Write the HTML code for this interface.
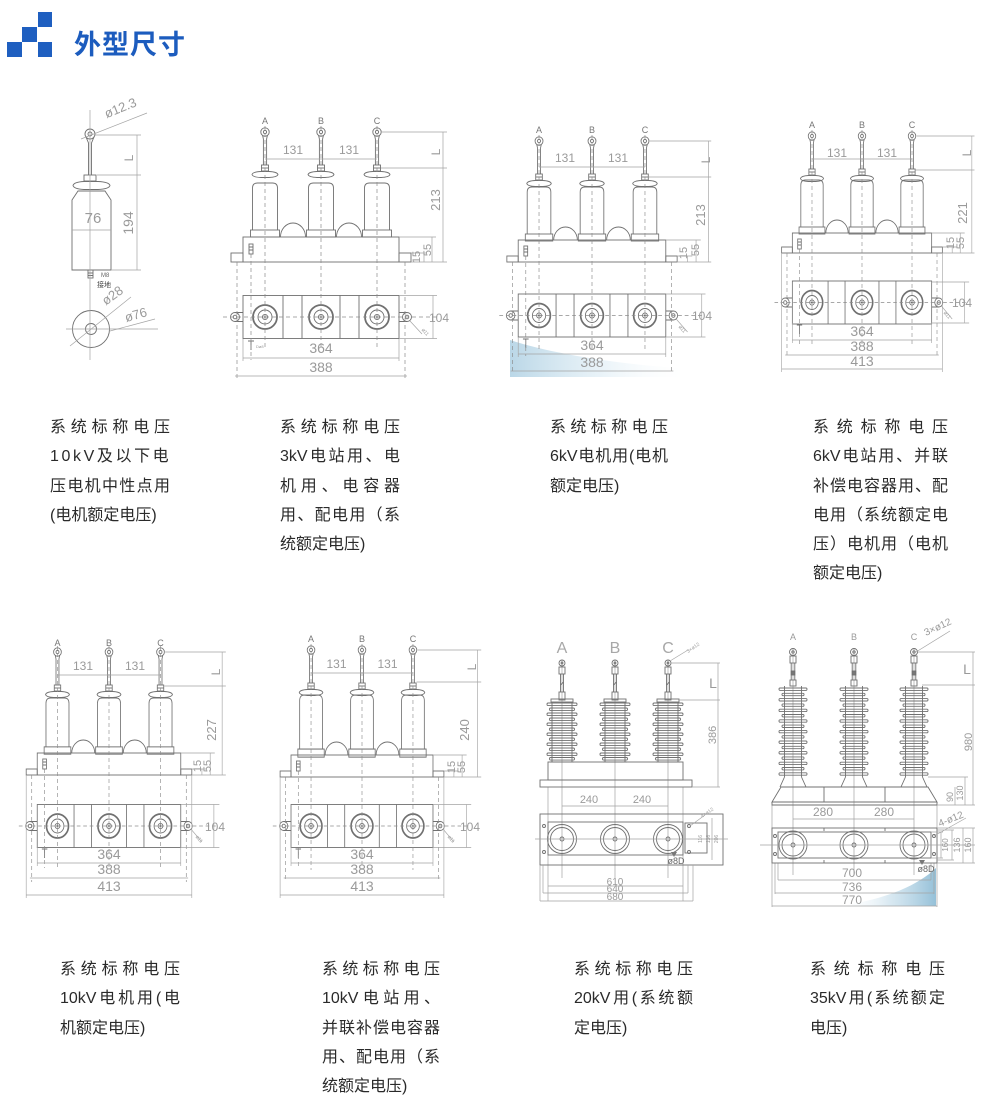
<!DOCTYPE html>
<html><head><meta charset="utf-8">
<style>
html,body{margin:0;padding:0;background:#fff;}
body{width:1000px;height:1118px;position:relative;overflow:hidden;}
.sq{position:absolute;background:#1f5fc0;}
.title{position:absolute;left:74px;top:30px;font-family:"Liberation Sans","Noto Sans CJK SC",sans-serif;font-size:27px;line-height:30px;font-weight:bold;color:#1c5cbe;letter-spacing:1px;white-space:nowrap;}
.tx{position:absolute;font-family:"Liberation Sans","Noto Sans CJK SC",sans-serif;font-size:16px;line-height:29.3px;color:#2a2a2a;}
.tx div{white-space:nowrap;}
.tx .j{text-align:justify;text-align-last:justify;}
svg{position:absolute;left:0;top:0;}
.l{stroke:#707070;stroke-width:.9;fill:none;}
.lb{stroke:#707070;stroke-width:1.8;fill:none;}
.d{stroke:#a4a4a4;stroke-width:.7;fill:none;}
.ds{stroke:#8c8c8c;stroke-width:.7;fill:none;stroke-dasharray:4 3;}
.t{fill:#9a9a9a;font-family:"Liberation Sans","Noto Sans CJK SC",sans-serif;}
</style></head><body>

<div class="sq" style="left:38px;top:12px;width:14px;height:15px"></div>
<div class="sq" style="left:22px;top:27px;width:15px;height:15px"></div>
<div class="sq" style="left:7px;top:42px;width:15px;height:15px"></div>
<div class="sq" style="left:38px;top:42px;width:14px;height:15px"></div>
<div class="title">外型尺寸</div>

<svg width="1000" height="1118" viewBox="0 0 1000 1118" xmlns="http://www.w3.org/2000/svg">
<defs>
<linearGradient id="g1" x1="0" y1="0" x2="1" y2="0"><stop offset="0" stop-color="#a9cde1" stop-opacity=".8"/><stop offset=".5" stop-color="#d2e6f1" stop-opacity=".5"/><stop offset="1" stop-color="#ffffff" stop-opacity="0"/></linearGradient>
<linearGradient id="g2" x1="0" y1="0" x2="1" y2="0"><stop offset="0" stop-color="#ffffff" stop-opacity="0"/><stop offset=".5" stop-color="#c3dcea" stop-opacity=".6"/><stop offset="1" stop-color="#8fbdd6" stop-opacity=".95"/></linearGradient>

<g id="top">
 <circle cx="0" cy="0" r="4.2"/><circle cx="0" cy="0" r="1.6"/>
 <path d="M-2.4,3.4 L-1.6,7 V33 M2.4,3.4 L1.6,7 V33"/>
 <rect x="-3.5" y="33" width="7" height="6"/><path d="M-3.5,36 H3.5"/>
 <path d="M-13,42.5 Q-12,39.8 -4,39.5 H4 Q12,39.8 13,42.5 Q12,45.2 4,45.5 H-4 Q-12,45.2 -13,42.5Z"/>
</g>
<g id="cyl">
 <path d="M-12.5,47 V5 Q-12.5,0 -7.5,0 H7.5 Q12.5,0 12.5,5 V47"/>
 <rect x="-14.5" y="47" width="29" height="7"/>
</g>
<g id="bush"><circle r="12" class="lb"/><circle r="7" class="l"/><circle r="2.6" class="l"/><path class="l" d="M-1.5,0H1.5M0,-1.5V1.5"/></g>
<g id="plan">
 <rect class="l" x="-78" y="-21.5" width="156" height="43"/>
 <path class="l" d="M-38,-21.5V21.5M-19,-21.5V21.5M19,-21.5V21.5M38,-21.5V21.5"/>
 <use href="#bush" x="-56"/><use href="#bush" x="0"/><use href="#bush" x="56"/>
 <path class="l" d="M-78,-4.5H-86M-78,4.5H-86M78,-4.5H86M78,4.5H86"/>
 <circle class="l" cx="-86" r="4.5"/><circle class="l" cx="-86" r="1.8"/>
 <circle class="l" cx="86" r="4.5"/><circle class="l" cx="86" r="1.8"/>
 <path class="ds" d="M-98,0 H116"/>
</g>

<g id="t20"><circle r="3"/><circle r="1"/><rect x="-3" y="4" width="6" height="7"/><path d="M-1.5,11V29M1.5,11V29M-1.5,22L1.5,19"/><rect x="-3" y="29" width="6" height="8"/></g>
<g id="i20">
 <rect x="-11" y="-1" width="22" height="3"/><path d="M-10,2V62M10,2V62M-12,62H12"/>
 <rect x="-15" y="3" width="30" height="2.6" rx="1.2"/><rect x="-12.5" y="8" width="25" height="2.6" rx="1.2"/>
 <rect x="-15" y="13" width="30" height="2.6" rx="1.2"/><rect x="-12.5" y="18" width="25" height="2.6" rx="1.2"/>
 <rect x="-15" y="23" width="30" height="2.6" rx="1.2"/><rect x="-12.5" y="28" width="25" height="2.6" rx="1.2"/>
 <rect x="-15" y="33" width="30" height="2.6" rx="1.2"/><rect x="-12.5" y="38" width="25" height="2.6" rx="1.2"/>
 <rect x="-15" y="43" width="30" height="2.6" rx="1.2"/><rect x="-12.5" y="48" width="25" height="2.6" rx="1.2"/>
 <rect x="-15" y="53" width="30" height="2.6" rx="1.2"/><rect x="-12.5" y="57.5" width="25" height="2.6" rx="1.2"/>
</g>
<g id="t35"><circle r="3.5"/><circle r="1.2"/><rect x="-3" y="4" width="6" height="7"/><path d="M-1.8,11V28M1.8,11V28"/><rect x="-1.8" y="19" width="3.6" height="4" fill="#777"/><rect x="-3" y="28" width="6" height="6"/></g>
<g id="i35">
 <path d="M-8.5,0V91M8.5,0V91M-8.5,91L-13,101M8.5,91L13,101"/>
 <rect x="-14" y="2" width="28" height="2.4" rx="1.1"/><rect x="-11" y="7.3" width="22" height="2.4" rx="1.1"/>
 <rect x="-14" y="12.6" width="28" height="2.4" rx="1.1"/><rect x="-11" y="17.9" width="22" height="2.4" rx="1.1"/>
 <rect x="-14" y="23.2" width="28" height="2.4" rx="1.1"/><rect x="-11" y="28.5" width="22" height="2.4" rx="1.1"/>
 <rect x="-14" y="33.8" width="28" height="2.4" rx="1.1"/><rect x="-11" y="39.1" width="22" height="2.4" rx="1.1"/>
 <rect x="-14" y="44.4" width="28" height="2.4" rx="1.1"/><rect x="-11" y="49.7" width="22" height="2.4" rx="1.1"/>
 <rect x="-14" y="55" width="28" height="2.4" rx="1.1"/><rect x="-11" y="60.3" width="22" height="2.4" rx="1.1"/>
 <rect x="-14" y="65.6" width="28" height="2.4" rx="1.1"/><rect x="-11" y="70.9" width="22" height="2.4" rx="1.1"/>
 <rect x="-14" y="76.2" width="28" height="2.4" rx="1.1"/><rect x="-11" y="81.5" width="22" height="2.4" rx="1.1"/>
 <rect x="-14" y="86.8" width="28" height="2.4" rx="1.1"/>
</g>
</defs>

<!-- blue smears -->
<path d="M510,340 C540,350 600,363 690,369 L690,377 L510,377 Z" fill="url(#g1)"/>
<path d="M936,868 V906 H840 C880,900 915,888 936,868 Z" fill="url(#g2)"/>

<!-- ===== D1 single phase ===== -->
<g class="l">
 <circle cx="90" cy="134" r="5"/><circle cx="90" cy="134" r="2"/>
 <path d="M86,137 L88.5,143 V175 M94,137 L91.5,143 V175"/>
 <rect x="84" y="175" width="12" height="6"/>
 <path d="M73,185.5 Q74,182 84,181.5 H98 Q109,182 110,185.5 Q109,189 98,189.5 H84 Q74,189 73,185.5Z"/>
 <path d="M72,270 V200 L78,191 H105 L111,200 V270 Z"/>
 <rect x="88" y="270" width="5" height="8"/><path d="M88,273H93M88,275.5H93"/>
 <circle cx="91" cy="329" r="18.5"/><circle cx="91" cy="329" r="5.5"/>
</g>
<path class="d" d="M90,110 V360 M66,329 H158"/>
<path class="d" d="M81,139 L147,113 M95,135 H141 M97,175 H141 M111,270 H141 M137,135 V270 M72,230 H111 M70,346 L131,297 M110,331 L155,319"/>
<g class="t" text-anchor="middle">
 <text transform="translate(122,112) rotate(-22)" font-size="13">ø12.3</text>
 <text transform="translate(133,158) rotate(-90)" font-size="12">L</text>
 <text transform="translate(133,223) rotate(-90)" font-size="14">194</text>
 <text x="93" y="223" font-size="15">76</text>
 <text x="101" y="277" font-size="6" text-anchor="start" fill="#666">M8</text>
 <text x="97" y="287" font-size="7" text-anchor="start" fill="#444">接地</text>
 <text transform="translate(115,299) rotate(-36)" font-size="13">ø28</text>
 <text transform="translate(137,319) rotate(-16)" font-size="13">ø76</text>
</g>

<!-- ===== D2 ===== -->
<g transform="translate(321,0)">
 <g class="l">
  <use href="#top" x="-56" y="132"/><use href="#top" x="0" y="132"/><use href="#top" x="56" y="132"/>
  <use href="#cyl" x="-56" y="183"/><use href="#cyl" x="0" y="183"/><use href="#cyl" x="56" y="183"/>
  <path d="M-40.5,237 A12.5,14 0 0 1 -15.5,237 M15.5,237 A12.5,14 0 0 1 40.5,237"/>
  <rect x="-78" y="237" width="156" height="25"/>
  <rect x="-90" y="253" width="12" height="9"/><rect x="78" y="253" width="12" height="9"/>
  <rect x="-72" y="244" width="4" height="10"/><path d="M-72,247H-68M-72,250H-68"/>
  <path d="M-73,341h6M-70,341v9"/>
 </g>
 <use href="#plan" y="317"/>
 <path class="ds" d="M-56,126V350M0,126V350M56,126V350M-84,262V379M84,262V379M-70,254V360"/>
 <path class="d" d="M-56,159H56M61,132H126M60,168H126M122,132V262M90,262H126M78,237H115M90,253H106M103,253V262M111,237V262M78,295.5H116M78,338.5H116M112,295.5V338.5M-78,339V361M78,339V361M-78,358H78M-86,376H86M89,321L101,334"/>
</g>
<g class="t" text-anchor="middle">
 <text x="265" y="124" font-size="9" fill="#777">A</text><text x="321" y="124" font-size="9" fill="#777">B</text><text x="377" y="124" font-size="9" fill="#777">C</text>
 <text x="293" y="154" font-size="12">131</text><text x="349" y="154" font-size="12">131</text>
 <text transform="translate(440,152) rotate(-90)" font-size="12">L</text>
 <text transform="translate(440,200) rotate(-90)" font-size="13">213</text>
 <text transform="translate(420,257) rotate(-90)" font-size="11">15</text>
 <text transform="translate(431,250) rotate(-90)" font-size="11">55</text>
 <text x="439" y="322" font-size="12">104</text>
 <text x="321" y="353" font-size="14">364</text>
 <text x="321" y="372" font-size="14">388</text>
 <text transform="translate(424,333) rotate(50)" font-size="5">ø11</text>
 <text x="256" y="348" font-size="4" text-anchor="start">Dø8</text>
</g>

<!-- ===== D3 ===== -->
<g transform="translate(592,0) scale(0.946,1)">
 <g class="l">
  <use href="#top" x="-56" y="141"/><use href="#top" x="0" y="141"/><use href="#top" x="56" y="141"/>
  <use href="#cyl" x="-56" y="187"/><use href="#cyl" x="0" y="187"/><use href="#cyl" x="56" y="187"/>
  <path d="M-40.5,240 A12.5,13 0 0 1 -15.5,240 M15.5,240 A12.5,13 0 0 1 40.5,240"/>
  <rect x="-78" y="240" width="156" height="22"/>
  <rect x="-90" y="256" width="12" height="6"/><rect x="78" y="256" width="12" height="6"/>
  <rect x="-72" y="246" width="4" height="10"/><path d="M-72,249H-68M-72,252H-68"/>
  <path d="M-73,339h6M-70,339v9"/>
 </g>
 <use href="#plan" y="315.5"/>
 <path class="ds" d="M-56,135V350M0,135V350M56,135V350M-84,262V374M84,262V374M-70,256V356"/>
 <path class="d" d="M-56,167H56M61,141H126M60,177H126M123,141V262M90,262H126M78,240H115M90,256H106M101,256V262M110,240V262M78,294H120M78,337H120M116,294V337M-78,337V357M78,337V357M-78,354H78M-86,371H86M89,319L101,332"/>
</g>
<g class="t" text-anchor="middle">
 <text x="539" y="133" font-size="9" fill="#777">A</text><text x="592" y="133" font-size="9" fill="#777">B</text><text x="645" y="133" font-size="9" fill="#777">C</text>
 <text x="565" y="162" font-size="12">131</text><text x="618" y="162" font-size="12">131</text>
 <text transform="translate(710,160) rotate(-90)" font-size="12">L</text>
 <text transform="translate(705,215) rotate(-90)" font-size="13">213</text>
 <text transform="translate(687,253) rotate(-90)" font-size="11">15</text>
 <text transform="translate(699,250) rotate(-90)" font-size="11">55</text>
 <text x="702" y="320" font-size="12">104</text>
 <text x="592" y="350" font-size="14">364</text>
 <text x="592" y="367" font-size="14">388</text>
 <text transform="translate(681,330) rotate(50)" font-size="5">ø11</text>
</g>

<!-- ===== D4 ===== -->
<g transform="translate(862,0) scale(0.893,1)">
 <g class="l">
  <use href="#top" x="-56" y="136"/><use href="#top" x="0" y="136"/><use href="#top" x="56" y="136"/>
  <use href="#cyl" x="-56" y="180"/><use href="#cyl" x="0" y="180"/><use href="#cyl" x="56" y="180"/>
  <path d="M-40.5,233 A12.5,13 0 0 1 -15.5,233 M15.5,233 A12.5,13 0 0 1 40.5,233"/>
  <rect x="-78" y="233" width="156" height="20"/>
  <rect x="-90" y="247" width="12" height="6"/><rect x="78" y="247" width="12" height="6"/>
  <rect x="-72" y="239" width="4" height="10"/><path d="M-72,242H-68M-72,245H-68"/>
  <path d="M-73,325h6M-70,325v9"/>
 </g>
 <use href="#plan" y="302.5"/>
 <path class="ds" d="M-56,130V345M0,130V345M56,130V345M-84,253V358M84,253V358M-70,249V344"/>
 <path class="d" d="M-56,159H56M61,136H126M60,170H126M123,136V253M90,253H126M78,233H115M90,247H106M101,247V253M110,233V253M78,282H120M78,323H120M115,282V323M-78,323V343M78,323V343M-78,340H78M-86,355H86M-90,253V372M90,253V372M-90,369H90M89,306L101,319"/>
</g>
<g class="t" text-anchor="middle">
 <text x="812" y="128" font-size="9" fill="#777">A</text><text x="862" y="128" font-size="9" fill="#777">B</text><text x="912" y="128" font-size="9" fill="#777">C</text>
 <text x="837" y="157" font-size="12">131</text><text x="887" y="157" font-size="12">131</text>
 <text transform="translate(971,153) rotate(-90)" font-size="12">L</text>
 <text transform="translate(967,213) rotate(-90)" font-size="13">221</text>
 <text transform="translate(954,243) rotate(-90)" font-size="11">15</text>
 <text transform="translate(964,243) rotate(-90)" font-size="11">55</text>
 <text x="962" y="307" font-size="12">104</text>
 <text x="862" y="336" font-size="14">364</text>
 <text x="862" y="351" font-size="14">388</text>
 <text x="862" y="366" font-size="14">413</text>
 <text transform="translate(946,316) rotate(50)" font-size="5">ø11</text>
</g>

<!-- ===== D5 ===== -->
<g transform="translate(109,0) scale(0.92,1)">
 <g class="l">
  <use href="#top" x="-56" y="652"/><use href="#top" x="0" y="652"/><use href="#top" x="56" y="652"/>
  <use href="#cyl" transform="translate(-56,698) scale(1,1.04)"/><use href="#cyl" transform="translate(0,698) scale(1,1.04)"/><use href="#cyl" transform="translate(56,698) scale(1,1.04)"/>
  <path d="M-40.5,753 A12.5,13 0 0 1 -15.5,753 M15.5,753 A12.5,13 0 0 1 40.5,753"/>
  <rect x="-78" y="753" width="156" height="22"/>
  <rect x="-90" y="769" width="12" height="6"/><rect x="78" y="769" width="12" height="6"/>
  <rect x="-72" y="759" width="4" height="10"/><path d="M-72,762H-68M-72,765H-68"/>
  <path d="M-73,849h6M-70,849v9"/>
 </g>
 <use href="#plan" y="826"/>
 <path class="ds" d="M-56,646V870M0,646V870M56,646V870M-84,775V882M84,775V882M-70,769V868"/>
 <path class="d" d="M-56,675H56M61,652H127M60,686H127M123,652V775M90,775H127M78,753H115M90,769H106M101,769V775M110,753V775M78,804.5H120M78,847.5H120M114,804.5V847.5M-78,847V866M78,847V866M-78,863H78M-86,878H86M-90,775V898M90,775V898M-90,895H90M89,829L101,842"/>
</g>
<g class="t" text-anchor="middle">
 <text x="57.5" y="646" font-size="9" fill="#777">A</text><text x="109" y="646" font-size="9" fill="#777">B</text><text x="160.5" y="646" font-size="9" fill="#777">C</text>
 <text x="83" y="670" font-size="12">131</text><text x="135" y="670" font-size="12">131</text>
 <text transform="translate(220,672) rotate(-90)" font-size="12">L</text>
 <text transform="translate(216,730) rotate(-90)" font-size="13">227</text>
 <text transform="translate(201,766) rotate(-90)" font-size="11">15</text>
 <text transform="translate(211,766) rotate(-90)" font-size="11">55</text>
 <text x="215" y="831" font-size="12">104</text>
 <text x="109" y="859" font-size="14">364</text>
 <text x="109" y="874" font-size="14">388</text>
 <text x="109" y="891" font-size="14">413</text>
 <text transform="translate(198,840) rotate(50)" font-size="5">ø11</text>
</g>

<!-- ===== D6 ===== -->
<g transform="translate(362,0) scale(0.91,1)">
 <g class="l">
  <use href="#top" x="-56" y="650"/><use href="#top" x="0" y="650"/><use href="#top" x="56" y="650"/>
  <use href="#cyl" transform="translate(-56,695) scale(1,1.15)"/><use href="#cyl" transform="translate(0,695) scale(1,1.15)"/><use href="#cyl" transform="translate(56,695) scale(1,1.15)"/>
  <path d="M-40.5,755 A12.5,13 0 0 1 -15.5,755 M15.5,755 A12.5,13 0 0 1 40.5,755"/>
  <rect x="-78" y="755" width="156" height="22"/>
  <rect x="-90" y="771" width="12" height="6"/><rect x="78" y="771" width="12" height="6"/>
  <rect x="-72" y="761" width="4" height="10"/><path d="M-72,764H-68M-72,767H-68"/>
  <path d="M-73,849h6M-70,849v9"/>
 </g>
 <use href="#plan" y="826"/>
 <path class="ds" d="M-56,644V870M0,644V870M56,644V870M-84,777V882M84,777V882M-70,771V868"/>
 <path class="d" d="M-56,673H56M61,650H131M60,682H131M127,650V777M90,777H131M78,755H115M90,771H106M101,771V777M110,755V777M78,804.5H120M78,847.5H120M115,804.5V847.5M-78,847V866M78,847V866M-78,863H78M-86,878H86M-90,777V898M90,777V898M-90,895H90M89,829L101,842"/>
</g>
<g class="t" text-anchor="middle">
 <text x="311" y="642" font-size="9" fill="#777">A</text><text x="362" y="642" font-size="9" fill="#777">B</text><text x="413" y="642" font-size="9" fill="#777">C</text>
 <text x="336.5" y="668" font-size="12">131</text><text x="387.5" y="668" font-size="12">131</text>
 <text transform="translate(476,667) rotate(-90)" font-size="12">L</text>
 <text transform="translate(469,730) rotate(-90)" font-size="13">240</text>
 <text transform="translate(455,767) rotate(-90)" font-size="11">15</text>
 <text transform="translate(465,767) rotate(-90)" font-size="11">55</text>
 <text x="470" y="831" font-size="12">104</text>
 <text x="362" y="859" font-size="14">364</text>
 <text x="362" y="874" font-size="14">388</text>
 <text x="362" y="891" font-size="14">413</text>
 <text transform="translate(450,840) rotate(50)" font-size="5">ø11</text>
</g>

<!-- ===== D7 20kV ===== -->
<path class="d" d="M562,660V878M615,660V878M668,660V878M548,787V901M683,787V901"/>
<g class="l">
 <use href="#t20" x="562" y="663"/><use href="#t20" x="615" y="663"/><use href="#t20" x="668" y="663"/>
 <use href="#i20" x="562" y="700"/><use href="#i20" x="615" y="700"/><use href="#i20" x="668" y="700"/>
 <rect x="548" y="762" width="135" height="18"/>
 <rect x="540" y="780" width="152" height="7"/>
 <rect x="540" y="814" width="183" height="51"/>
 <rect x="548" y="822" width="135" height="33"/>
 <rect x="685" y="823" width="22" height="30"/>
 <circle cx="562" cy="839" r="14.5"/><circle cx="562" cy="839" r="11.5"/><circle cx="562" cy="839" r="2"/>
 <circle cx="615" cy="839" r="14.5"/><circle cx="615" cy="839" r="11.5"/><circle cx="615" cy="839" r="2"/>
 <circle cx="668" cy="839" r="14.5"/><circle cx="668" cy="839" r="11.5"/><circle cx="668" cy="839" r="2"/>
 <circle cx="544" cy="826" r="1.5"/><circle cx="544" cy="852" r="1.5"/><circle cx="689" cy="826" r="1.5"/><circle cx="689" cy="852" r="1.5"/>
</g>
<path class="d" d="M535,839H728M712,818V860M671,663H720M679,700H720M692,787H720M718,663V787M562,806H668M670,661L688,650M690,826L705,815M543,865V893M688,865V893M540,865V901M693,865V901M548,886H683M543,893H688M540,901H693"/>
<path d="M671,852H677L674,857Z" fill="#777"/>
<g class="t" text-anchor="middle">
 <text x="562" y="653" font-size="16" fill="#a8a8a8">A</text><text x="615" y="653" font-size="16" fill="#a8a8a8">B</text><text x="668" y="653" font-size="16" fill="#a8a8a8">C</text>
 <text transform="translate(694,649) rotate(-35)" font-size="5">3×ø12</text>
 <text x="713" y="688" font-size="14">L</text>
 <text transform="translate(716,735) rotate(-90)" font-size="11">386</text>
 <text x="589" y="803" font-size="11">240</text><text x="642" y="803" font-size="11">240</text>
 <text transform="translate(708,814) rotate(-35)" font-size="5">4×ø12</text>
 <text transform="translate(702,839) rotate(-90)" font-size="5">116</text>
 <text transform="translate(710,839) rotate(-90)" font-size="5">136</text>
 <text transform="translate(718,839) rotate(-90)" font-size="5">206</text>
 <text x="676" y="864" font-size="9" fill="#666">ø8D</text>
 <text x="615" y="885" font-size="10">610</text>
 <text x="615" y="892" font-size="10">640</text>
 <text x="615" y="900" font-size="10">680</text>
</g>

<!-- ===== D8 35kV ===== -->
<path class="d" d="M793,648V875M854,648V875M914,648V875M772,805V907M937,805V907M778,863V880M931,863V880M775,863V894M934,863V894"/>
<g class="l">
 <use href="#t35" x="793" y="652"/><use href="#t35" x="854" y="652"/><use href="#t35" x="914" y="652"/>
 <use href="#i35" x="793" y="686"/><use href="#i35" x="854" y="686"/><use href="#i35" x="914" y="686"/>
 <path d="M781,787H928L937,802H772Z M772,802V805H937V802 M824,787V802 M885,787V802"/>
 <rect x="772" y="828" width="165" height="35"/>
 <rect x="778" y="832" width="153" height="26"/>
 <circle cx="793" cy="845" r="14"/><circle cx="793" cy="845" r="11"/><circle cx="793" cy="845" r="2"/>
 <circle cx="854" cy="845" r="14"/><circle cx="854" cy="845" r="11"/><circle cx="854" cy="845" r="2"/>
 <circle cx="914" cy="845" r="14"/><circle cx="914" cy="845" r="11"/><circle cx="914" cy="845" r="2"/>
 <circle cx="775" cy="836" r="1.5"/><circle cx="775" cy="854" r="1.5"/><circle cx="934" cy="836" r="1.5"/><circle cx="934" cy="854" r="1.5"/>
 <path d="M824,828v3M885,828v3M824,860v3M885,860v3"/>
</g>
<path class="d" d="M760,845H975M918,652H975M922,685H975M937,805H975M973,652V805M928,777H968M955,787V805M965,777V805M793,819H914M916,652L950,631M934,836L966,818M931,832H943M931,858H943M941,832V858M937,830H954M937,860H954M952,830V860M937,828H975M937,863H975M963,828V863M973,828V863M778,880H931M775,893H934M772,906H937"/>
<path d="M919,860H925L922,865Z" fill="#777"/>
<g class="t" text-anchor="middle">
 <text x="793" y="640" font-size="9">A</text><text x="854" y="640" font-size="9">B</text><text x="914" y="640" font-size="9">C</text>
 <text transform="translate(939,630) rotate(-25)" font-size="10">3×ø12</text>
 <text x="967" y="674" font-size="14">L</text>
 <text transform="translate(972,742) rotate(-90)" font-size="11">980</text>
 <text transform="translate(953,797) rotate(-90)" font-size="9">90</text>
 <text transform="translate(963,793) rotate(-90)" font-size="9">130</text>
 <text x="823" y="816" font-size="12">280</text><text x="884" y="816" font-size="12">280</text>
 <text transform="translate(952,822) rotate(-22)" font-size="10">4-ø12</text>
 <text transform="translate(948,845) rotate(-90)" font-size="8">160</text>
 <text transform="translate(960,845) rotate(-90)" font-size="9">136</text>
 <text transform="translate(971,845) rotate(-90)" font-size="9">160</text>
 <text x="926" y="872" font-size="9" fill="#666">ø8D</text>
 <text x="852" y="877" font-size="12">700</text>
 <text x="852" y="891" font-size="12">736</text>
 <text x="852" y="904" font-size="12">770</text>
</g>
</svg>

<!-- captions row 1 -->
<div class="tx" style="left:50px;top:413px;width:120px">
 <div class="j">系统标称电压</div><div style="letter-spacing:2.6px">10kV及以下电</div><div class="j">压电机中性点用</div><div>(电机额定电压)</div>
</div>
<div class="tx" style="left:280px;top:413px;width:120px">
 <div class="j">系统标称电压</div><div class="j">3kV电站用、电</div><div class="j">机用、电容器</div><div class="j">用、配电用（系</div><div>统额定电压)</div>
</div>
<div class="tx" style="left:550px;top:413px;width:118px">
 <div class="j">系统标称电压</div><div class="j">6kV电机用(电机</div><div>额定电压)</div>
</div>
<div class="tx" style="left:813px;top:413px;width:135px">
 <div class="j">系统标称电压</div><div class="j">6kV电站用、并联</div><div class="j">补偿电容器用、配</div><div class="j">电用（系统额定电</div><div class="j">压）电机用（电机</div><div>额定电压)</div>
</div>

<!-- captions row 2 -->
<div class="tx" style="left:60px;top:955px;width:120px">
 <div class="j">系统标称电压</div><div class="j">10kV电机用(电</div><div>机额定电压)</div>
</div>
<div class="tx" style="left:322px;top:955px;width:118px">
 <div class="j">系统标称电压</div><div class="j">10kV电站用、</div><div class="j">并联补偿电容器</div><div class="j">用、配电用（系</div><div>统额定电压)</div>
</div>
<div class="tx" style="left:574px;top:955px;width:119px">
 <div class="j">系统标称电压</div><div class="j">20kV用(系统额</div><div>定电压)</div>
</div>
<div class="tx" style="left:810px;top:955px;width:135px">
 <div class="j">系统标称电压</div><div class="j">35kV用(系统额定</div><div>电压)</div>
</div>

</body></html>
